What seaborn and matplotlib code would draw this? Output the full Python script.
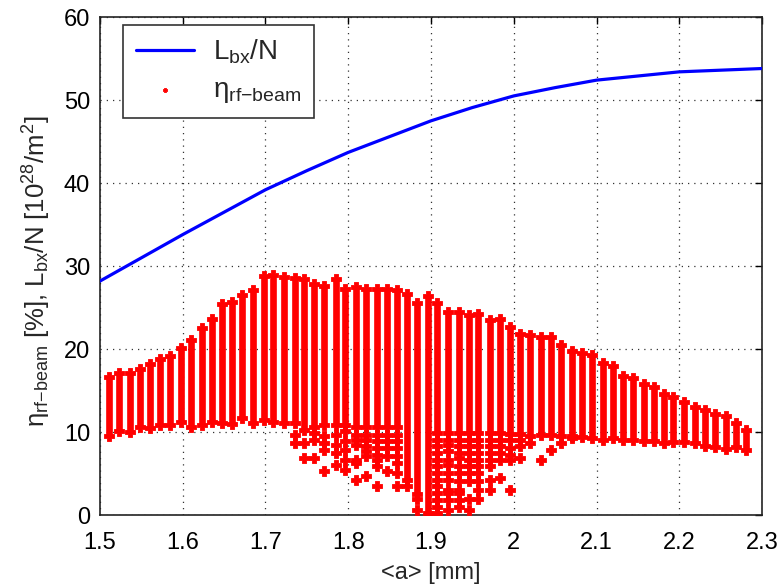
import matplotlib
matplotlib.use("Agg")
import matplotlib.pyplot as plt
import seaborn as sns
import pandas as pd

# Luminosity per bunch crossing per particle vs. mean aperture
a_line = [1.50, 1.55, 1.60, 1.65, 1.70, 1.75, 1.80, 1.85, 1.90,
          1.95, 2.00, 2.05, 2.10, 2.15, 2.20, 2.25, 2.30]
lbx_line = [28.2, 31.0, 33.8, 36.5, 39.2, 41.5, 43.7, 45.6, 47.5,
            49.1, 50.5, 51.5, 52.4, 52.9, 53.4, 53.6, 53.8]

# RF-to-beam efficiency: per-aperture column of solutions (dense band)
a_cols = [1.511, 1.523, 1.536, 1.549, 1.561, 1.573, 1.585, 1.598, 1.610, 1.623,
          1.635, 1.648, 1.660, 1.672, 1.685, 1.698, 1.709, 1.722, 1.736, 1.747,
          1.759, 1.771, 1.785, 1.796, 1.809, 1.821, 1.835, 1.847, 1.859, 1.871,
          1.883, 1.896, 1.907, 1.920, 1.934, 1.946, 1.957, 1.971, 1.983, 1.995,
          2.007, 2.020, 2.033, 2.045, 2.057, 2.070, 2.082, 2.094, 2.108, 2.120,
          2.132, 2.144, 2.157, 2.169, 2.181, 2.193, 2.206, 2.219, 2.231, 2.243,
          2.256, 2.268, 2.280]
eta_top = [16.7, 17.1, 17.2, 17.6, 18.2, 18.8, 19.2, 20.1, 21.1, 22.5,
           23.7, 25.4, 25.7, 26.5, 27.1, 28.8, 29.0, 28.7, 28.6, 28.4,
           27.9, 27.6, 28.4, 27.2, 27.5, 27.3, 27.2, 27.3, 27.1, 26.7,
           25.6, 26.4, 25.6, 24.5, 24.5, 24.1, 24.3, 23.5, 23.7, 22.7,
           21.8, 21.7, 21.5, 21.5, 20.5, 19.8, 19.5, 19.3, 18.3, 18.0,
           16.8, 16.5, 15.8, 15.5, 14.6, 14.2, 13.7, 13.1, 12.7, 12.2,
           12.0, 11.1, 10.3]
eta_bottom = [9.6, 10.1, 10.0, 10.7, 10.5, 10.9, 10.9, 11.3, 10.7, 10.9,
              11.3, 11.1, 11.0, 11.7, 11.1, 11.5, 11.3, 11.1, 11.1, 10.3,
              10.7, 10.9, 10.9, 10.9, 10.7, 10.7, 10.7, 10.7, 10.7, 4.3,
              2.6, 0.3, 9.9, 9.9, 9.9, 9.9, 9.9, 9.9, 9.9, 9.8,
              9.8, 9.6, 9.7, 9.7, 9.6, 9.6, 9.4, 9.3, 9.1, 9.3,
              9.1, 9.1, 8.9, 8.9, 8.7, 8.8, 8.8, 8.7, 8.4, 8.2,
              8.0, 8.2, 7.9]

# Isolated low-efficiency solutions below the dense bands
tail_a = [1.736, 1.736,
          1.747, 1.747,
          1.759, 1.759, 1.759,
          1.771, 1.771, 1.771, 1.771,
          1.785, 1.785, 1.785, 1.785,
          1.796, 1.796, 1.796, 1.796, 1.796,
          1.809, 1.809, 1.809, 1.809, 1.809, 1.809,
          1.821, 1.821, 1.821, 1.821, 1.821, 1.821,
          1.835, 1.835, 1.835, 1.835, 1.835, 1.835, 1.835,
          1.847, 1.847, 1.847, 1.847, 1.847,
          1.859, 1.859, 1.859, 1.859, 1.859, 1.859, 1.859,
          1.871,
          1.883, 1.883,
          1.907, 1.907, 1.907, 1.907, 1.907, 1.907, 1.907, 1.907, 1.907, 1.907, 1.907, 1.907,
          1.920, 1.920, 1.920, 1.920, 1.920, 1.920, 1.920, 1.920, 1.920, 1.920, 1.920,
          1.934, 1.934, 1.934, 1.934, 1.934, 1.934, 1.934, 1.934, 1.934, 1.934, 1.934,
          1.946, 1.946, 1.946, 1.946, 1.946, 1.946, 1.946, 1.946, 1.946,
          1.957, 1.957, 1.957, 1.957, 1.957, 1.957, 1.957, 1.957, 1.957,
          1.971, 1.971, 1.971, 1.971, 1.971, 1.971, 1.971,
          1.983, 1.983, 1.983, 1.983, 1.983,
          1.995, 1.995, 1.995, 1.995, 1.995,
          2.007, 2.007, 2.007,
          2.020, 2.033, 2.045, 2.057, 2.070]
tail_eta = [9.7, 8.7,
            8.7, 6.9,
            9.9, 9.1, 6.9,
            9.5, 8.7, 7.9, 5.3,
            9.7, 8.5, 7.5, 6.1,
            10.1, 8.9, 7.9, 6.7, 5.5,
            9.7, 9.1, 8.5, 6.7, 6.3, 4.3,
            9.7, 9.1, 8.3, 7.7, 7.1, 4.7,
            9.7, 8.9, 8.1, 7.3, 6.7, 5.9, 3.5,
            9.7, 8.9, 8.1, 7.1, 5.3,
            9.7, 8.9, 8.1, 7.1, 6.3, 5.1, 3.5,
            3.5,
            2.0, 0.6,
            9.1, 8.3, 7.5, 6.7, 5.9, 5.1, 4.3, 3.5, 2.7, 1.8, 1.0, 0.24,
            9.1, 8.5, 7.7, 6.7, 6.1, 5.1, 4.3, 3.1, 2.7, 1.8, 0.6,
            9.1, 8.3, 7.5, 6.9, 5.9, 5.1, 4.1, 3.1, 2.7, 1.8, 1.0,
            9.1, 8.3, 7.5, 6.7, 5.9, 5.1, 4.1, 2.0, 0.6,
            9.1, 8.3, 7.5, 6.7, 5.9, 5.1, 4.1, 3.1, 2.0,
            9.1, 8.3, 7.5, 6.7, 5.9, 4.3, 3.1,
            9.1, 8.3, 7.5, 6.7, 4.5,
            9.1, 8.1, 7.3, 6.7, 3.1,
            9.1, 8.3, 6.9,
            8.7, 6.7, 7.9, 8.7, 9.3]

x_ticks = [1.5, 1.6, 1.7, 1.8, 1.9, 2.0, 2.1, 2.2, 2.3]
x_ticklabels = ["1.5", "1.6", "1.7", "1.8", "1.9", "2", "2.1", "2.2", "2.3"]
y_ticks = [0, 10, 20, 30, 40, 50, 60]

sns.set_theme(style="white")
plt.rcParams["font.family"] = ["Liberation Sans", "DejaVu Sans"]
plt.rcParams["mathtext.fontset"] = "custom"
plt.rcParams["mathtext.rm"] = "Liberation Sans"
plt.rcParams["mathtext.it"] = "Liberation Sans:italic"
plt.rcParams["mathtext.bf"] = "Liberation Sans:bold"

fig = plt.figure(figsize=(7.8, 5.87), dpi=100)
ax = fig.add_axes([0.128, 0.122, 0.849, 0.849])

RED = "#ff0000"
BLUE = "#0000ff"
ETA_LABEL = r"η$_{\mathrm{rf{-}beam}}$"
LBX_LABEL = r"L$_{\mathrm{bx}}$/N"

# dense efficiency bands
ax.vlines(a_cols, eta_bottom, eta_top, colors=RED, linewidth=4.8, zorder=3)
ends = pd.DataFrame({"a": a_cols * 2, "eta": eta_top + eta_bottom})
sns.scatterplot(data=ends, x="a", y="eta", ax=ax, color=RED, marker="P",
                s=42, linewidth=0.6, edgecolor=RED, zorder=3, legend=False)
tails = pd.DataFrame({"a": tail_a, "eta": tail_eta})
sns.scatterplot(data=tails, x="a", y="eta", ax=ax, color=RED, marker="P",
                s=42, linewidth=0.6, edgecolor=RED, zorder=3, label=ETA_LABEL)

line = pd.DataFrame({"a": a_line, "lbx": lbx_line})
sns.lineplot(data=line, x="a", y="lbx", ax=ax, color=BLUE, linewidth=2.3,
             zorder=4, label=LBX_LABEL)

ax.set_xlim(1.5, 2.3)
ax.set_ylim(0, 60)
ax.set_xticks(x_ticks)
ax.set_xticklabels(x_ticklabels)
ax.set_yticks(y_ticks)
ax.tick_params(direction="in", length=5, width=1, top=True, right=True,
               labelsize=17, colors="black")
ax.tick_params(axis="x", pad=12)
ax.tick_params(axis="y", pad=7)
for sp in ax.spines.values():
    sp.set_color("#222222")
    sp.set_linewidth(1.2)
ax.grid(True, color="#333333", linestyle=(0, (1, 4)), linewidth=0.9)
ax.set_axisbelow(True)

ax.set_xlabel("<a> [mm]", fontsize=17, labelpad=6)
ax.set_ylabel(ETA_LABEL + r" [%], L$_{\mathrm{bx}}$/N [10$^{28}$/m$^2$]",
              fontsize=18.5, labelpad=6)
ax.yaxis.set_label_coords(-0.07, 0.49)

handles, labels = ax.get_legend_handles_labels()
order = [labels.index(LBX_LABEL), labels.index(ETA_LABEL)]
leg = ax.legend([handles[i] for i in order], [labels[i] for i in order],
                loc="upper left", bbox_to_anchor=(0.035, 0.984), fontsize=20,
                frameon=True, fancybox=False, framealpha=1, edgecolor="#333333",
                handlelength=2.1, markerscale=0.5, borderpad=0.45,
                labelspacing=0.4, handletextpad=0.7, borderaxespad=0)
leg.get_frame().set_linewidth(1.2)

fig.savefig("out.png", dpi=100)
